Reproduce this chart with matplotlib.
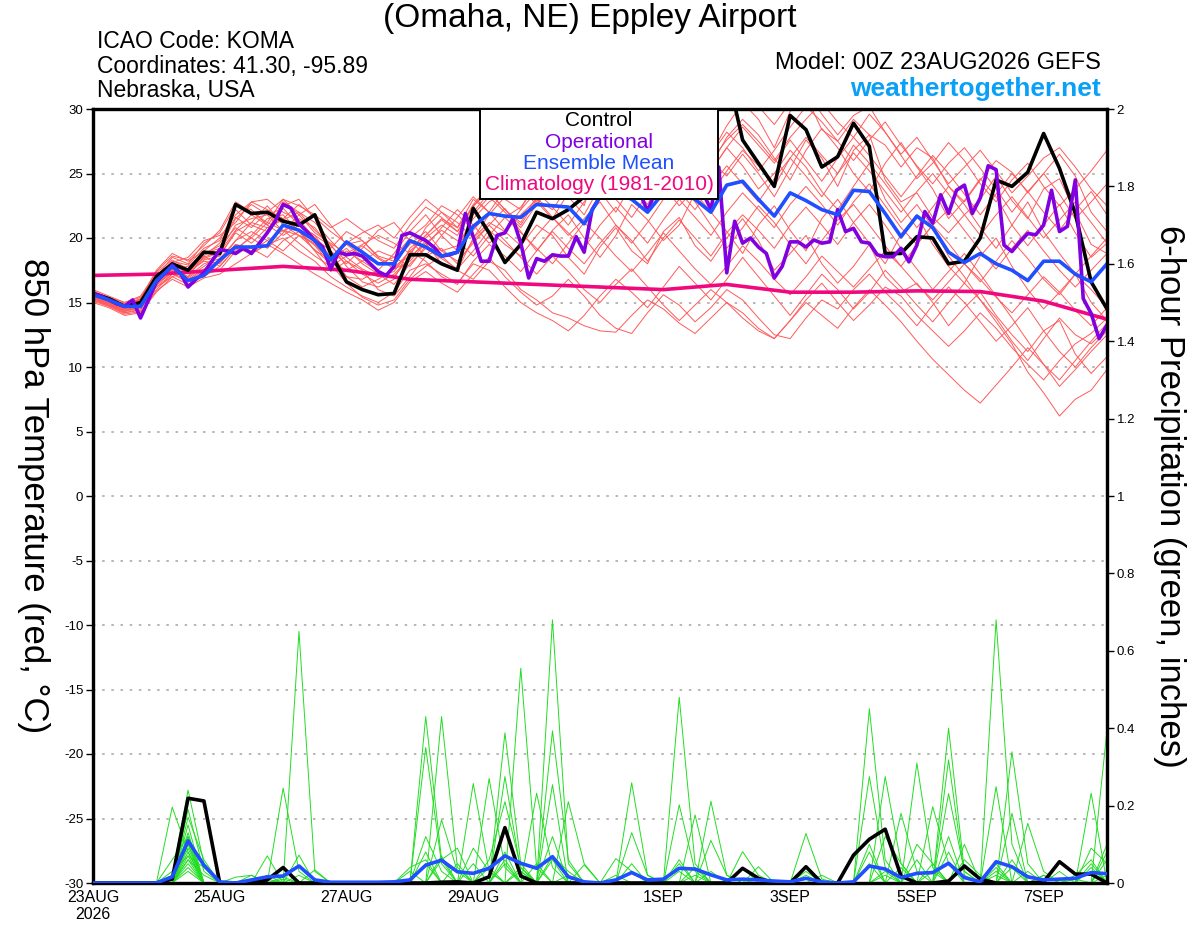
import numpy as np
import matplotlib
matplotlib.use('Agg')
from matplotlib import pyplot as plt
from matplotlib.patches import Rectangle

plt.rcParams['font.family'] = ['Liberation Sans', 'DejaVu Sans']
plt.rcParams['axes.unicode_minus'] = False

# forecast hours (6-hourly ensemble, 3-hourly operational, daily climatology)
hours = np.arange(0, 385, 6)
hours_op = np.arange(0, 385, 3)
clim_hours = np.arange(0, 385, 24)

day_ticks = [0, 48, 96, 144, 216, 264, 312, 360]
day_labels = ['23AUG\n2026', '25AUG', '27AUG', '29AUG', '1SEP', '3SEP', '5SEP', '7SEP']

# 850 hPa temperature, ensemble members (deg C)
t01 = [15.8, 15.3, 14.9, 15.2, 17.2, 17.8, 17.4, 18.5,
       19.0, 21.0, 21.5, 21.8, 22.3, 21.0, 20.2, 18.5,
       19.5, 19.8, 18.6, 18.2, 19.5, 20.5, 19.0, 19.4,
       21.5, 22.8, 23.5, 23.0, 24.5, 25.6, 24.0, 23.3,
       25.8, 27.5, 26.0, 25.2, 28.0, 29.5, 27.8, 26.5,
       28.7, 30.5, 29.2, 27.0, 29.8, 31.0, 28.4, 27.5,
       29.2, 28.0, 24.5, 22.8, 23.5, 21.6, 20.4, 21.8,
       23.0, 24.8, 22.9, 21.5, 23.8, 24.6, 22.0, 19.5,
       18.8]
t02 = [15.2, 14.8, 14.3, 14.6, 16.3, 17.5, 16.8, 17.6,
       18.2, 19.5, 19.0, 19.8, 20.6, 20.2, 19.1, 18.0,
       19.0, 18.2, 17.4, 17.0, 18.5, 19.6, 18.0, 17.5,
       20.0, 21.2, 20.5, 19.4, 21.0, 20.2, 18.5, 17.2,
       19.3, 20.8, 19.0, 18.0, 20.5, 21.6, 19.4, 18.2,
       20.0, 21.5, 19.8, 17.5, 18.8, 20.2, 18.0, 16.5,
       17.8, 19.5, 17.0, 15.8, 16.5, 15.0, 13.2, 14.6,
       15.8, 14.0, 12.5, 11.2, 12.8, 13.6, 11.0, 9.5,
       10.8]
t03 = [15.5, 15.0, 14.5, 15.0, 16.8, 18.2, 17.9, 19.2,
       19.8, 22.2, 21.0, 20.5, 22.8, 22.0, 20.6, 19.5,
       17.8, 16.6, 16.2, 16.8, 19.2, 20.2, 21.5, 20.8,
       23.0, 22.0, 21.6, 22.4, 24.0, 25.5, 23.8, 22.5,
       26.5, 27.8, 29.0, 26.8, 25.5, 27.2, 28.6, 26.0,
       24.8, 26.5, 25.0, 23.2, 25.4, 27.6, 26.2, 24.0,
       26.8, 28.0, 27.2, 25.5, 27.0, 26.2, 24.0, 22.8,
       24.5, 26.0, 25.1, 23.5, 25.0, 26.5, 24.8, 22.0,
       20.5]
t04 = [15.0, 14.6, 14.0, 14.2, 15.8, 17.0, 16.4, 17.2,
       17.5, 19.0, 20.2, 21.5, 21.8, 20.5, 19.0, 17.4,
       18.2, 17.5, 16.0, 15.5, 17.0, 18.6, 19.2, 18.0,
       19.8, 21.0, 22.3, 20.5, 19.0, 20.6, 21.8, 20.0,
       18.5, 20.2, 22.6, 21.4, 19.8, 21.0, 23.5, 22.0,
       20.5, 18.8, 21.0, 22.5, 20.6, 19.0, 21.5, 23.0,
       21.2, 19.6, 18.0, 20.3, 21.8, 19.5, 17.8, 16.5,
       18.6, 20.0, 17.8, 16.0, 14.5, 15.8, 17.2, 15.0,
       13.6]
t05 = [16.0, 15.5, 15.0, 15.4, 17.0, 18.5, 18.0, 19.6,
       20.4, 22.5, 22.2, 21.0, 22.5, 23.0, 21.5, 19.0,
       17.0, 16.8, 17.5, 18.8, 20.5, 21.8, 20.2, 19.0,
       21.8, 23.2, 22.0, 20.8, 22.6, 24.0, 25.8, 24.5,
       23.0, 24.8, 26.5, 25.0, 27.0, 28.8, 27.2, 25.6,
       27.8, 29.2, 28.0, 26.2, 24.5, 26.8, 28.5, 27.0,
       25.0, 23.6, 25.8, 27.4, 25.5, 23.8, 21.5, 22.9,
       24.6, 23.2, 21.0, 19.4, 21.0, 22.6, 20.4, 18.5,
       19.6]
t06 = [15.3, 14.9, 14.4, 14.6, 16.0, 17.2, 16.6, 17.0,
       17.8, 19.2, 18.8, 19.5, 20.0, 19.0, 18.2, 17.0,
       16.2, 15.5, 15.0, 15.8, 17.5, 18.0, 17.2, 16.5,
       18.0, 17.5, 16.2, 15.0, 14.2, 13.6, 12.8, 14.0,
       15.5, 16.8, 15.8, 14.6, 16.2, 17.8, 16.5, 15.2,
       16.8, 18.5, 17.0, 15.5, 14.0, 15.6, 17.2, 16.0,
       14.5, 15.8, 17.5, 16.2, 14.8, 13.5, 15.0, 16.5,
       15.2, 13.8, 12.0, 10.5, 12.2, 13.8, 12.5, 11.8,
       13.0]
t07 = [15.6, 15.1, 14.6, 15.1, 17.1, 18.0, 17.2, 18.3,
       18.6, 20.5, 21.2, 20.8, 21.4, 22.0, 21.2, 19.8,
       18.5, 17.6, 17.0, 17.4, 19.0, 20.0, 21.0, 20.2,
       22.5, 23.6, 22.2, 21.2, 23.2, 24.6, 23.2, 21.8,
       24.0, 25.4, 24.2, 22.6, 24.8, 26.2, 25.0, 23.4,
       25.2, 26.8, 25.6, 24.0, 26.2, 27.8, 26.4, 25.0,
       27.2, 25.8, 23.0, 21.2, 22.6, 20.8, 18.6, 17.0,
       15.2, 13.5, 11.8, 9.6, 8.0, 6.2, 7.5, 8.2,
       9.8]
t08 = [15.4, 14.8, 14.2, 14.4, 16.6, 17.6, 17.8, 18.8,
       19.4, 20.8, 20.0, 19.2, 20.4, 21.5, 20.8, 19.2,
       20.5, 19.8, 18.5, 17.8, 18.6, 20.8, 22.0, 21.2,
       20.0, 21.8, 23.2, 24.5, 22.8, 21.5, 23.5, 25.0,
       23.6, 22.0, 24.2, 25.6, 24.0, 22.5, 23.8, 25.2,
       27.0, 25.6, 23.8, 25.0, 26.8, 25.5, 23.6, 22.2,
       24.0, 25.8, 24.2, 22.5, 20.8, 22.4, 24.0, 22.6,
       20.8, 19.2, 21.0, 22.8, 20.5, 18.8, 17.2, 18.6,
       20.0]
t09 = [15.1, 14.7, 14.1, 14.3, 15.9, 16.8, 16.2, 16.9,
       17.2, 18.0, 18.8, 19.5, 18.8, 18.0, 17.2, 16.5,
       15.8, 15.2, 14.4, 15.0, 16.6, 17.4, 16.5, 15.8,
       17.2, 18.5, 17.0, 15.8, 14.8, 15.5, 16.8, 15.5,
       14.0, 13.0, 12.6, 14.2, 15.6, 14.8, 13.5, 14.6,
       16.0, 15.2, 13.8, 12.5, 12.2, 13.8, 15.2, 14.5,
       16.0, 17.2, 15.8, 14.6, 13.2, 14.8, 16.2, 15.0,
       13.5, 12.0, 13.2, 14.6, 12.8, 11.2, 10.0, 11.5,
       12.8]
t10 = [15.7, 15.2, 14.8, 15.3, 17.4, 18.6, 18.3, 19.4,
       20.6, 22.8, 22.0, 21.2, 23.0, 22.5, 21.8, 20.8,
       21.5, 20.6, 19.8, 19.2, 21.0, 22.4, 21.6, 20.5,
       22.6, 24.0, 23.0, 22.2, 24.8, 26.2, 25.0, 24.2,
       26.8, 28.5, 27.0, 26.0, 28.2, 29.8, 31.0, 29.5,
       30.6, 32.0, 30.2, 28.8, 30.5, 31.5, 29.6, 28.0,
       29.5, 30.2, 28.2, 26.5, 27.8, 26.0, 24.2, 25.5,
       26.8, 25.2, 23.5, 24.8, 26.2, 27.0, 25.5, 23.8,
       22.5]
t11 = [15.5, 15.0, 14.6, 15.0, 16.4, 17.4, 17.0, 18.0,
       18.4, 19.8, 21.2, 22.5, 21.0, 20.2, 19.5, 18.2,
       17.5, 18.2, 19.0, 18.5, 17.8, 19.4, 20.8, 22.2,
       21.0, 19.6, 20.5, 21.8, 23.0, 21.6, 20.2, 21.5,
       22.8, 21.0, 19.6, 21.2, 23.0, 24.5, 22.8, 21.0,
       19.2, 20.8, 22.5, 21.2, 19.5, 18.0, 19.8, 21.4,
       22.6, 21.0, 19.4, 17.8, 19.5, 21.0, 19.6, 18.0,
       16.6, 18.2, 19.8, 18.4, 16.8, 15.6, 17.2, 16.0,
       14.6]
t12 = [15.3, 14.9, 14.3, 14.7, 16.2, 17.0, 17.4, 18.2,
       18.0, 19.5, 19.2, 18.5, 19.8, 20.5, 19.4, 18.0,
       16.5, 15.4, 14.8, 15.2, 16.8, 17.8, 18.6, 17.5,
       16.8, 18.2, 17.5, 16.0, 15.2, 14.2, 13.8, 13.2,
       12.8, 12.7, 14.0, 15.2, 14.5, 13.4, 12.6, 13.8,
       15.0, 14.2, 13.0, 12.2, 13.6, 15.2, 16.5, 15.0,
       13.6, 14.8, 16.2, 15.5, 14.0, 12.8, 11.6, 12.8,
       14.2, 13.0, 11.5, 10.2, 9.0, 10.5, 11.8, 12.6,
       13.8]
t13 = [15.9, 15.4, 15.0, 15.5, 17.3, 18.3, 17.6, 18.8,
       19.2, 21.5, 22.6, 21.8, 20.5, 21.8, 22.6, 21.0,
       19.5, 18.6, 18.0, 18.5, 20.0, 21.0, 22.5, 21.8,
       20.6, 22.0, 23.8, 24.5, 23.0, 22.2, 24.0, 26.0,
       27.2, 25.5, 24.2, 25.8, 27.5, 26.2, 24.8, 26.5,
       28.2, 27.0, 25.2, 26.8, 28.6, 30.2, 29.0, 27.5,
       26.0, 27.6, 29.0, 27.2, 25.6, 24.2, 25.8, 27.0,
       25.4, 23.8, 22.0, 23.6, 25.0, 23.4, 21.5, 22.8,
       24.2]
t14 = [15.6, 15.0, 14.4, 14.8, 16.5, 17.6, 16.9, 17.8,
       18.7, 20.4, 19.6, 20.8, 21.5, 20.6, 19.0, 18.4,
       19.2, 18.0, 17.2, 16.4, 18.0, 19.2, 18.4, 17.6,
       19.0, 20.6, 19.5, 18.6, 20.2, 21.6, 20.4, 19.2,
       21.0, 22.4, 21.0, 19.6, 21.4, 23.0, 21.6, 20.2,
       22.0, 23.5, 22.2, 20.8, 22.6, 24.0, 22.6, 21.0,
       22.8, 24.2, 22.5, 20.8, 19.5, 21.0, 22.2, 20.6,
       19.0, 17.6, 19.2, 20.6, 19.0, 17.5, 16.2, 17.5,
       18.8]
t15 = [15.4, 14.9, 14.5, 14.9, 16.9, 17.8, 17.0, 18.6,
       19.6, 21.6, 20.8, 22.0, 23.0, 21.8, 20.4, 19.6,
       18.8, 19.5, 20.2, 19.6, 18.8, 20.2, 21.4, 20.5,
       22.0, 23.5, 22.2, 21.0, 23.0, 24.8, 26.0, 24.6,
       23.2, 25.0, 26.5, 25.2, 24.0, 25.8, 27.2, 26.0,
       27.6, 28.8, 27.5, 26.0, 27.8, 29.2, 30.5, 29.0,
       27.8, 29.6, 28.2, 26.4, 24.6, 25.8, 27.4, 26.0,
       24.2, 22.8, 24.5, 25.8, 24.0, 22.5, 23.8, 25.2,
       26.8]
t16 = [15.2, 14.7, 14.2, 14.5, 16.4, 17.3, 16.7, 17.5,
       18.1, 19.8, 20.5, 19.8, 19.0, 20.2, 19.6, 18.2,
       17.0, 16.2, 16.8, 17.6, 19.0, 18.2, 17.0, 16.4,
       18.2, 19.5, 18.6, 17.4, 19.0, 20.5, 19.2, 18.0,
       19.6, 21.0, 19.8, 18.2, 20.0, 21.4, 20.0, 18.6,
       20.4, 21.8, 20.6, 19.2, 21.0, 22.4, 21.0, 19.5,
       21.2, 22.6, 21.0, 19.2, 17.6, 16.0, 17.4, 18.8,
       17.2, 15.5, 13.8, 12.0, 10.2, 8.5, 9.8, 11.2,
       12.5]
t17 = [15.8, 15.3, 14.8, 15.3, 17.5, 18.8, 18.2, 19.0,
       20.0, 21.8, 22.8, 23.0, 22.0, 21.4, 20.0, 19.0,
       18.0, 19.2, 20.6, 21.2, 19.8, 18.6, 20.2, 21.6,
       23.2, 22.0, 20.6, 22.2, 23.6, 22.4, 21.0, 22.8,
       24.4, 23.0, 21.6, 23.4, 25.0, 23.6, 22.2, 24.0,
       25.6, 24.2, 22.8, 24.6, 26.2, 24.8, 23.2, 25.0,
       26.6, 25.2, 23.6, 22.0, 23.6, 25.0, 23.4, 21.8,
       20.2, 21.8, 23.2, 21.6, 20.0, 21.4, 22.8, 21.2,
       19.6]
t18 = [15.4, 15.0, 14.6, 15.0, 16.7, 17.9, 17.5, 18.4,
       18.9, 20.6, 21.8, 21.0, 20.2, 21.0, 20.2, 19.4,
       18.2, 17.2, 16.5, 17.2, 18.4, 19.8, 19.0, 18.2,
       19.6, 21.0, 19.8, 18.5, 17.2, 18.6, 17.4, 16.0,
       15.0, 16.4, 17.6, 16.2, 14.8, 13.6, 14.8, 16.0,
       15.0, 13.8, 12.8, 12.2, 13.6, 15.0, 14.0, 13.0,
       14.6, 16.0, 14.8, 13.5, 12.0, 10.6, 9.4, 8.2,
       7.2, 8.6, 10.0, 11.5, 10.2, 9.0, 10.5, 12.0,
       13.4]
t19 = [15.7, 15.2, 14.7, 15.2, 17.0, 18.1, 18.5, 19.8,
       20.2, 21.2, 22.8, 22.2, 21.5, 22.6, 21.6, 20.5,
       19.6, 20.4, 21.0, 20.0, 21.6, 23.0, 22.0, 20.8,
       22.4, 24.0, 25.2, 23.8, 22.6, 24.4, 25.8, 24.4,
       26.0, 27.6, 26.2, 24.8, 26.6, 28.0, 26.6, 25.2,
       27.0, 28.6, 27.2, 25.8, 27.6, 26.0, 24.4, 26.2,
       27.8, 26.4, 24.8, 23.2, 24.8, 26.4, 25.0, 23.4,
       21.8, 23.4, 25.0, 23.6, 22.0, 20.6, 22.2, 23.6,
       21.8]
t20 = [15.3, 14.8, 14.4, 14.8, 16.2, 17.2, 17.6, 18.6,
       17.8, 19.2, 20.0, 21.2, 20.6, 19.6, 18.6, 17.8,
       18.6, 19.4, 18.4, 17.6, 18.2, 19.6, 20.6, 19.8,
       18.6, 20.2, 21.6, 20.4, 19.2, 18.0, 19.6, 21.2,
       20.0, 18.6, 17.4, 18.8, 20.4, 19.0, 17.6, 16.4,
       17.8, 19.4, 18.2, 16.8, 15.6, 17.0, 18.6, 17.4,
       16.2, 17.6, 19.0, 17.8, 16.4, 15.2, 16.6, 18.0,
       16.8, 15.4, 14.2, 15.6, 17.0, 15.8, 14.4, 13.2,
       14.6]
temp_members = [t01, t02, t03, t04, t05, t06, t07, t08, t09, t10,
                t11, t12, t13, t14, t15, t16, t17, t18, t19, t20]

control_temp = [15.7, 15.3, 14.7, 15.0, 17.0, 18.0, 17.5, 18.9,
                18.8, 22.6, 21.9, 22.0, 21.3, 21.0, 21.8, 18.8,
                16.6, 16.0, 15.6, 15.7, 18.7, 18.7, 18.0, 17.5,
                22.3, 20.4, 18.1, 19.5, 22.0, 21.5, 22.2, 23.2,
                24.5, 26.0, 27.5, 28.5, 29.5, 30.5, 31.5, 32.0,
                33.0, 27.6, 25.8, 24.0, 29.5, 28.4, 25.5, 26.3,
                28.9, 27.1, 18.8, 18.8, 20.1, 20.0, 18.0, 18.2,
                20.0, 24.5, 24.0, 25.1, 28.1, 25.4, 21.9, 16.6,
                14.5]
mean_temp = [15.6, 15.2, 14.7, 14.7, 16.7, 17.8, 16.7, 17.1,
             18.3, 19.3, 19.3, 19.4, 21.0, 20.6, 19.8, 18.3,
             19.7, 18.9, 18.0, 18.0, 19.8, 19.3, 18.6, 18.9,
             20.9, 21.9, 21.7, 21.6, 22.6, 22.5, 22.4, 21.1,
             23.2, 23.5, 23.0, 22.0, 23.5, 23.6, 23.0, 22.0,
             24.1, 24.4, 23.0, 21.7, 23.5, 22.9, 22.2, 21.8,
             23.7, 23.6, 21.9, 20.1, 21.7, 20.8, 18.9, 18.1,
             18.8, 18.0, 17.5, 16.7, 18.2, 18.2, 17.2, 16.6,
             18.0]
# operational run, 3-hourly
oper_temp = [15.7, 15.5, 15.2, 14.9, 14.7, 15.2, 13.8, 15.2,
             16.6, 17.2, 17.9, 17.3, 16.2, 16.8, 17.3, 18.2,
             19.1, 19.0, 18.8, 19.2, 18.8, 19.6, 20.4, 21.3,
             22.6, 22.3, 21.1, 20.5, 19.8, 19.3, 17.6, 18.9,
             18.7, 18.8, 18.6, 18.0, 17.4, 17.1, 17.8, 20.2,
             20.4, 20.1, 19.8, 19.3, 18.6, 18.7, 18.9, 21.9,
             20.1, 18.2, 18.2, 20.2, 20.4, 21.5, 19.6, 16.9,
             18.4, 18.2, 18.7, 18.6, 18.6, 20.1, 18.9, 22.2,
             23.2, 24.0, 24.5, 24.0, 23.8, 23.5, 22.1, 23.6,
             24.2, 24.8, 24.5, 24.0, 23.8, 23.5, 22.2, 25.5,
             17.3, 21.3, 19.6, 20.0, 19.3, 18.8, 16.9, 17.8,
             19.7, 19.7, 19.3, 19.85, 19.6, 19.7, 22.2, 20.5,
             20.75, 19.7, 19.6, 18.7, 18.55, 18.55, 19.2, 18.15,
             19.45, 22.05, 21.15, 23.35, 21.9, 23.7, 24.1, 21.9,
             23.1, 25.6, 25.3, 19.45, 18.95, 19.7, 20.35, 20.25,
             21.0, 23.7, 20.5, 20.9, 24.5, 15.3, 14.15, 12.2,
             13.25]
clim_temp = [17.1, 17.2, 17.5, 17.8, 17.5, 16.8, 16.6, 16.4, 16.2,
             16.0, 16.4, 15.8, 15.8, 15.9, 15.85, 15.1, 13.7]

# 6-hour precipitation members (inches), nonzero amounts by forecast hour
p01 = {30: 0.02, 36: 0.24, 42: 0.05, 126: 0.43, 132: 0.06, 174: 0.68, 180: 0.05, 294: 0.45, 300: 0.06, 342: 0.02}
p02 = {36: 0.19, 42: 0.03, 78: 0.65, 84: 0.03, 132: 0.43, 138: 0.04, 222: 0.48, 228: 0.05, 342: 0.68, 348: 0.1}
p03 = {30: 0.196, 36: 0.08, 126: 0.35, 132: 0.05, 162: 0.555, 168: 0.04, 324: 0.40, 330: 0.03}
p04 = {36: 0.15, 72: 0.245, 78: 0.03, 156: 0.388, 162: 0.05, 312: 0.31, 318: 0.04, 384: 0.395}
p05 = {36: 0.12, 144: 0.257, 150: 0.03, 174: 0.393, 180: 0.06, 204: 0.259, 210: 0.02, 348: 0.339, 354: 0.05}
p06 = {36: 0.1, 66: 0.07, 150: 0.27, 156: 0.04, 234: 0.211, 240: 0.02, 294: 0.275, 300: 0.04, 378: 0.232}
p07 = {36: 0.08, 78: 0.072, 156: 0.275, 162: 0.03, 174: 0.254, 222: 0.202, 228: 0.03, 324: 0.318, 330: 0.02}
p08 = {36: 0.06, 42: 0.02, 132: 0.163, 138: 0.03, 168: 0.232, 174: 0.04, 228: 0.176, 300: 0.275, 306: 0.05, 342: 0.249}
p09 = {36: 0.05, 180: 0.21, 186: 0.05, 270: 0.128, 276: 0.01, 318: 0.197, 324: 0.05, 348: 0.18}
p10 = {36: 0.17, 42: 0.06, 120: 0.04, 126: 0.06, 204: 0.13, 210: 0.02, 306: 0.18, 312: 0.03, 354: 0.154, 360: 0.03}
p11 = {36: 0.04, 54: 0.015, 60: 0.02, 150: 0.06, 156: 0.21, 162: 0.04, 246: 0.081, 252: 0.02, 324: 0.231, 330: 0.03, 378: 0.09, 384: 0.05}
p12 = {36: 0.03, 84: 0.034, 198: 0.063, 204: 0.03, 234: 0.11, 240: 0.02, 294: 0.08, 330: 0.06, 336: 0.02, 372: 0.02, 378: 0.06}
p13 = {36: 0.07, 60: 0.01, 126: 0.08, 144: 0.09, 150: 0.03, 222: 0.05, 252: 0.042, 312: 0.10, 318: 0.05, 360: 0.02, 384: 0.1}
p14 = {30: 0.06, 36: 0.12, 132: 0.06, 138: 0.09, 162: 0.03, 186: 0.047, 228: 0.04, 270: 0.03, 300: 0.12, 306: 0.05, 342: 0.05, 366: 0.03}
p15 = {36: 0.09, 66: 0.02, 120: 0.03, 156: 0.08, 168: 0.05, 198: 0.02, 246: 0.04, 294: 0.05, 324: 0.12, 348: 0.06, 378: 0.05}
p16 = {36: 0.11, 72: 0.015, 144: 0.05, 174: 0.07, 180: 0.03, 222: 0.06, 276: 0.02, 312: 0.06, 330: 0.1, 354: 0.03, 384: 0.02}
p17 = {30: 0.03, 36: 0.07, 42: 0.04, 126: 0.12, 132: 0.03, 156: 0.05, 204: 0.05, 234: 0.03, 300: 0.03, 318: 0.05, 342: 0.04}
p18 = {36: 0.13, 60: 0.02, 138: 0.05, 150: 0.04, 174: 0.12, 228: 0.02, 270: 0.02, 306: 0.04, 324: 0.08, 360: 0.02, 384: 0.06}
p19 = {36: 0.06, 66: 0.01, 78: 0.02, 132: 0.07, 162: 0.04, 180: 0.02, 252: 0.01, 294: 0.1, 348: 0.04, 378: 0.04}
p20 = {36: 0.1, 72: 0.01, 126: 0.05, 156: 0.06, 174: 0.06, 222: 0.03, 300: 0.02, 318: 0.03, 342: 0.03, 372: 0.01, 384: 0.08}
pcp_members = [p01, p02, p03, p04, p05, p06, p07, p08, p09, p10,
               p11, p12, p13, p14, p15, p16, p17, p18, p19, p20]

control_pcp = [0, 0, 0, 0, 0, 0.01, 0.219, 0.212,
               0, 0, 0, 0.008, 0.04, 0, 0, 0,
               0, 0, 0, 0, 0, 0, 0.002, 0.003,
               0, 0.016, 0.143, 0.018, 0, 0, 0, 0,
               0, 0, 0, 0, 0, 0, 0, 0,
               0, 0.038, 0.012, 0, 0, 0.042, 0, 0,
               0.072, 0.113, 0.139, 0.018, 0, 0, 0.005, 0.044,
               0.01, 0, 0, 0, 0.003, 0.055, 0.023, 0.023,
               0]
mean_pcp = [0, 0, 0, 0, 0, 0.016, 0.109, 0.046,
            0.003, 0, 0.008, 0.016, 0.018, 0.044, 0.008, 0.002,
            0.002, 0.002, 0.002, 0.003, 0.008, 0.046, 0.059, 0.029,
            0.025, 0.038, 0.07, 0.051, 0.038, 0.068, 0.016, 0.003,
            0, 0.008, 0.027, 0.008, 0.01, 0.038, 0.036, 0.021,
            0.008, 0.01, 0.008, 0.005, 0.003, 0.012, 0.003, 0,
            0.003, 0.044, 0.036, 0.014, 0.025, 0.027, 0.051, 0.014,
            0.003, 0.055, 0.042, 0.016, 0.008, 0.01, 0.012, 0.027,
            0.024]

c_member_t = '#ff5a5a'
c_member_p = '#22dd22'
c_oper = '#8000e0'
c_mean = '#1f4fff'
c_clim = '#f0087f'

fig = plt.figure(figsize=(12, 9.27), dpi=100)
ax = fig.add_axes([93 / 1200, 44 / 927, 1014 / 1200, 774 / 927])

for m in temp_members:
    ax.plot(hours, m, color=c_member_t, lw=0.7, zorder=1)
ax.plot(clim_hours, clim_temp, color=c_clim, lw=2.6, zorder=3)
ax.plot(hours, control_temp, color='black', lw=2.6, zorder=4)
ax.plot(hours_op, oper_temp, color=c_oper, lw=2.6, zorder=5)
ax.plot(hours, mean_temp, color=c_mean, lw=2.6, zorder=6)

ax.set_xlim(0, 384)
ax.set_ylim(-30, 30)
ax.set_yticks(range(-30, 31, 5))
ax.set_xticks(day_ticks)
ax.set_xticklabels(day_labels)
ax.yaxis.grid(True, color='#aaaaaa', linestyle=(0, (1.5, 4)), lw=1.2)
ax.set_axisbelow(True)
ax.tick_params(axis='y', direction='out', length=5, width=1, labelsize=9.5, pad=2)
ax.tick_params(axis='x', direction='out', length=0, labelsize=11.5, pad=5)
ax.set_ylabel('850 hPa Temperature (red, °C)', fontsize=25, rotation=270, va='center', ha='center')
ax.yaxis.set_label_coords(-0.059, 0.5)

ax2 = ax.twinx()
for d in pcp_members:
    vals = np.zeros(len(hours))
    for h, v in d.items():
        vals[h // 6] = v
    ax2.plot(hours, vals, color=c_member_p, lw=0.7, zorder=1)
ax2.plot(hours, control_pcp, color='black', lw=2.6, zorder=4)
ax2.plot(hours, mean_pcp, color=c_mean, lw=2.6, zorder=6)
ax2.set_xlim(0, 384)
ax2.set_ylim(0, 2)
ax2.set_yticks(np.arange(0, 2.01, 0.2))
ax2.set_yticklabels(['0', '0.2', '0.4', '0.6', '0.8', '1', '1.2', '1.4', '1.6', '1.8', '2'])
ax2.tick_params(axis='y', direction='out', length=5, width=1, labelsize=9.5, pad=2)
ax2.set_ylabel('6-hour Precipitation (green, inches)', fontsize=25, rotation=270, va='center', ha='center')
ax2.yaxis.set_label_coords(1.062, 0.5)

for a in (ax, ax2):
    for s in a.spines.values():
        s.set_linewidth(2.3)

# legend box
ax2.add_patch(Rectangle((0.382, 0.884), 0.234, 0.116, transform=ax2.transAxes,
                        facecolor='white', edgecolor='black', lw=1.4, zorder=10, clip_on=False))
leg = [('Control', 'black', 0.9845), ('Operational', c_oper, 0.957),
       ('Ensemble Mean', c_mean, 0.930), ('Climatology (1981-2010)', c_clim, 0.902)]
for txt, col, yy in leg:
    ax2.text(0.499, yy, txt, color=col, fontsize=15, ha='center', va='center',
             transform=ax2.transAxes, zorder=11)

fig.text(590 / 1200, 1 - 18 / 927, '(Omaha, NE) Eppley Airport', fontsize=24, ha='center', va='center')
fig.text(97 / 1200, 1 - 41 / 927, 'ICAO Code: KOMA', fontsize=16.5, ha='left', va='center')
fig.text(97 / 1200, 1 - 66 / 927, 'Coordinates: 41.30, -95.89', fontsize=16.5, ha='left', va='center')
fig.text(97 / 1200, 1 - 91 / 927, 'Nebraska, USA', fontsize=16.5, ha='left', va='center')
fig.text(1101 / 1200, 1 - 63 / 927, 'Model: 00Z 23AUG2026 GEFS', fontsize=17, ha='right', va='center')
fig.text(1101 / 1200, 1 - 89 / 927, 'weathertogether.net', fontsize=19, fontweight='bold',
         color='#0aa0f5', ha='right', va='center')

fig.savefig('out.png', dpi=100)
